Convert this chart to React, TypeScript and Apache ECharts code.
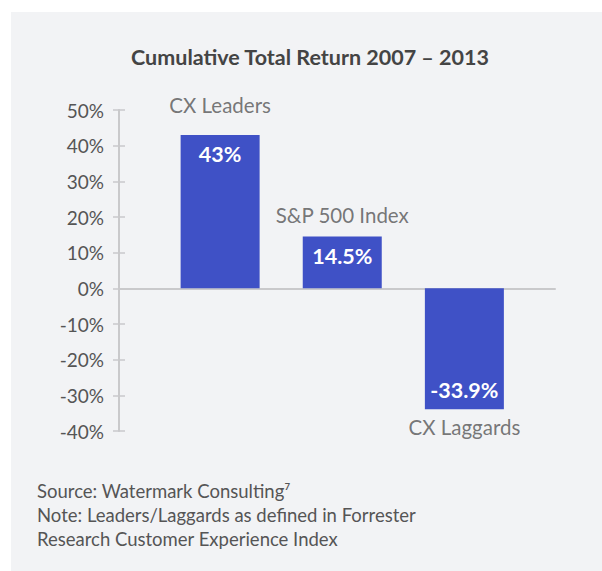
import React, { useEffect, useRef } from "react";
import * as echarts from "echarts";

const categories = ["CX Leaders", "S&P 500 Index", "CX Laggards"];
const values = [43, 14.5, -33.9];
const valueLabels = ["43%", "14.5%", "-33.9%"];
const titleText = "Cumulative Total Return 2007 – 2013";
const footLines = [
  "Source: Watermark Consulting⁷",
  "Note: Leaders/Laggards as defined in Forrester",
  "Research Customer Experience Index",
];

const FONT = "Lato, 'Open Sans', sans-serif";
const BAR = "#3f51c6";
const AXIS = "#c9c9cb";
const TEXT = "#555555";

export default function App() {
  const ref = useRef<HTMLDivElement>(null);
  useEffect(() => {
    document.body.style.margin = "0";
    const chart = echarts.init(ref.current!, null, { renderer: "svg" });
    const barData = values.map((v, i) => ({
      value: [i + 1, v],
      label: {
        position: v >= 0 ? "insideTop" : "insideBottom",
        formatter: valueLabels[i],
      },
    }));
    const nameDist = [19, 11, 7];
    const nameData = values.map((v, i) => ({
      value: [i + 1, v],
      label: {
        position: v >= 0 ? "top" : "bottom",
        distance: nameDist[i],
        formatter: categories[i],
      },
    }));
    chart.setOption({
      animation: false,
      backgroundColor: "#ffffff",
      graphic: [
        {
          type: "rect",
          z: -10,
          silent: true,
          shape: { x: 11, y: 12, width: 591, height: 559 },
          style: { fill: "#f2f3f5" },
        },
        {
          type: "text",
          x: 310,
          y: 57,
          style: {
            text: titleText,
            fontFamily: FONT,
            fontSize: 21.5,
            fontWeight: "bold",
            fill: "#444444",
            align: "center",
            verticalAlign: "middle",
          },
        },
        ...footLines.map((t, i) => ({
          type: "text",
          x: 37,
          y: 491 + i * 24,
          style: {
            text: t,
            fontFamily: FONT,
            fontSize: 18.5,
            fill: TEXT,
            align: "left",
            verticalAlign: "middle",
          },
        })),
      ],
      grid: { left: 119, right: 47, top: 110, bottom: 140 },
      xAxis: {
        type: "value",
        min: 0.172,
        max: 3.742,
        axisLine: { show: true, onZero: true, lineStyle: { color: AXIS, width: 2 } },
        axisTick: { show: false },
        axisLabel: { show: false },
        splitLine: { show: false },
      },
      yAxis: [
        {
          type: "value",
          min: -40,
          max: 50,
          interval: 10,
          axisLine: { show: true, lineStyle: { color: AXIS, width: 2 } },
          axisTick: { show: true, length: 6, lineStyle: { color: AXIS, width: 1.5 } },
          axisLabel: {
            margin: 15,
            formatter: "{value}%",
            fontFamily: FONT,
            fontSize: 19,
            color: TEXT,
          },
          splitLine: { show: false },
        },
        {
          type: "value",
          min: -40,
          max: 50,
          interval: 10,
          position: "left",
          axisLine: { show: false },
          axisTick: { show: true, inside: true, length: 6, lineStyle: { color: AXIS, width: 1.5 } },
          axisLabel: { show: false },
          splitLine: { show: false },
        },
      ],
      series: [
        {
          type: "bar",
          data: barData,
          barWidth: 79,
          itemStyle: { color: BAR },
          label: {
            show: true,
            distance: 8,
            color: "#ffffff",
            fontFamily: FONT,
            fontSize: 21.5,
            fontWeight: "bold",
          },
        },
        {
          type: "scatter",
          data: nameData,
          symbolSize: 1,
          itemStyle: { color: "rgba(0,0,0,0)" },
          silent: true,
          label: {
            show: true,
            color: TEXT,
            fontFamily: FONT,
            fontSize: 20.5,
          },
        },
      ],
    });
    return () => chart.dispose();
  }, []);
  return <div ref={ref} style={{ width: 602, height: 571 }} />;
}
